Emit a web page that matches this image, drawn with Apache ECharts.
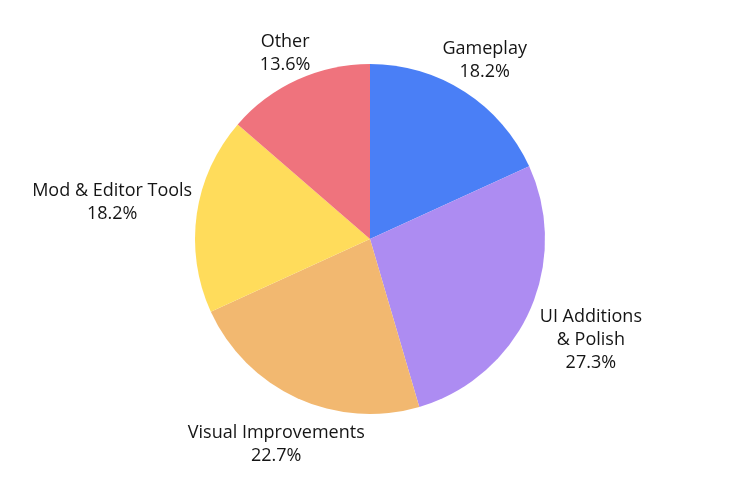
<!DOCTYPE html>
<html>
<head>
<meta charset="utf-8">
<script src="https://cdn.jsdelivr.net/npm/echarts@6/dist/echarts.min.js"></script>
<style>
  html, body { margin: 0; padding: 0; background: #fff; }
  #chart { width: 740px; height: 494px; }
</style>
</head>
<body>
<div id="chart"></div>
<script>
const categories = ['Gameplay', 'UI Additions\n& Polish', 'Visual Improvements', 'Mod & Editor Tools', 'Other'];
const values = [4, 6, 5, 4, 3];
const colors = ['#4a7ff6', '#ad8cf2', '#f2b870', '#ffdc5b', '#ef737d'];

const chart = echarts.init(document.getElementById('chart'));

const cx = 370, cy = 239, radius = 175;
// extra space between each label and the pie edge
const labelGaps = [-5, 7, -7, 3, -2];
const total = values.reduce((a, b) => a + b, 0);

// mid angle of each slice, clockwise from the top
function midAngle(i) {
  let before = 0;
  for (let k = 0; k < i; k++) before += values[k];
  const frac = (before + values[i] / 2) / total;
  return (90 - frac * 360) * Math.PI / 180;
}

const option = {
  backgroundColor: '#ffffff',
  series: [{
    type: 'pie',
    center: [cx, cy],
    radius: radius,
    startAngle: 90,
    clockwise: true,
    percentPrecision: 1,
    data: categories.map((name, i) => ({
      name: name,
      value: values[i],
      itemStyle: { color: colors[i] }
    })),
    label: {
      show: true,
      position: 'outside',
      alignTo: 'none',
      formatter: '{b}\n{d}%',
      color: '#151515',
      fontFamily: 'Open Sans',
      fontSize: 18,
      lineHeight: 23,
      align: 'center',
      overflow: 'none'
    },
    labelLine: { show: false },
    emphasis: { disabled: true },
    labelLayout: function (params) {
      const a = midAngle(params.dataIndex);
      const ux = Math.cos(a), uy = -Math.sin(a);
      const w = params.labelRect.width / 2, h = params.labelRect.height / 2;
      const d = radius + labelGaps[params.dataIndex] + Math.abs(ux) * w + Math.abs(uy) * h;
      return {
        x: cx + ux * d,
        y: cy + uy * d,
        align: 'center',
        verticalAlign: 'middle'
      };
    }
  }]
};

chart.setOption(option);
</script>
</body>
</html>
